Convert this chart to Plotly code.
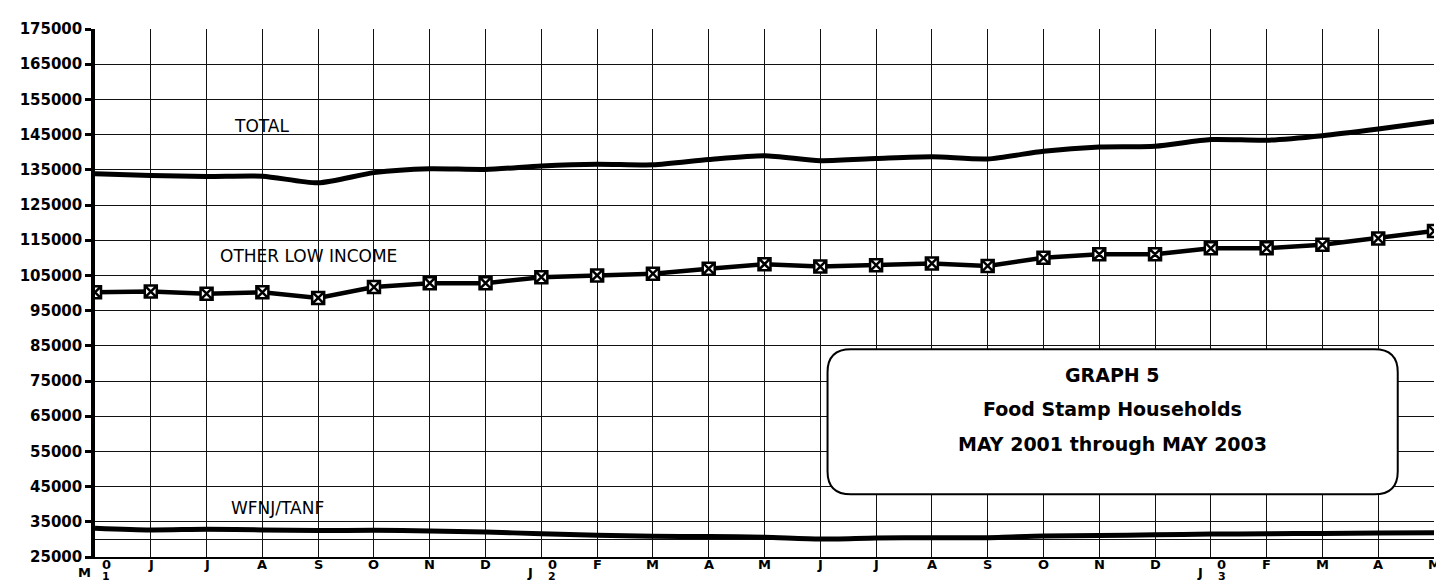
import plotly.graph_objects as go

# ---- data ----
month_letters = ["M", "J", "J", "A", "S", "O", "N", "D", "J", "F", "M", "A",
                 "M", "J", "J", "A", "S", "O", "N", "D", "J", "F", "M", "A", "M"]
year_marks = {0: "1", 8: "2", 20: "3"}   # months that start a year label ("0" + digit)

total = [133900, 133400, 133100, 133200, 131300, 134200, 135300, 135100, 136100,
         136600, 136400, 137900, 139000, 137600, 138200, 138700, 138100, 140300,
         141500, 141700, 143600, 143400, 144700, 146600, 148700]
other_low_income = [100200, 100400, 99800, 100200, 98600, 101700, 102800, 102800,
                    104500, 105000, 105500, 106900, 108200, 107500, 107900, 108400,
                    107700, 110000, 111000, 111000, 112700, 112700, 113700, 115500,
                    117600]
wfnj_tanf = [33200, 32700, 32900, 32700, 32500, 32600, 32400, 32100, 31600, 31200,
             30900, 30800, 30600, 30100, 30400, 30500, 30500, 31000, 31100, 31300,
             31500, 31600, 31700, 31800, 31900]

y_ticks = list(range(25000, 175001, 10000))

FONT = "DejaVu Sans"
x = list(range(len(month_letters)))

fig = go.Figure()
fig.add_trace(go.Scatter(x=x, y=total, mode="lines",
                         line=dict(color="black", width=5, shape="spline", smoothing=0.7),
                         hoverinfo="skip", showlegend=False))
fig.add_trace(go.Scatter(x=x, y=other_low_income, mode="lines+markers",
                         line=dict(color="black", width=4.5),
                         marker=dict(symbol="square-x", size=12, color="white",
                                     line=dict(color="black", width=2.5)),
                         hoverinfo="skip", showlegend=False))
fig.add_trace(go.Scatter(x=x, y=wfnj_tanf, mode="lines",
                         line=dict(color="black", width=5, shape="spline", smoothing=0.7),
                         hoverinfo="skip", showlegend=False))

annotations = []
tick_font = dict(family=FONT, size=13, color="black", weight="bold")
digit_font = dict(family=FONT, size=11, color="black", weight="bold")
# x-axis month labels
for i, m in enumerate(month_letters):
    if i in year_marks:
        annotations.append(dict(x=i, y=0, xref="x", yref="paper", text="0", showarrow=False,
                                xanchor="center", yanchor="middle", xshift=11, yshift=-7,
                                font=tick_font))
        annotations.append(dict(x=i, y=0, xref="x", yref="paper", text=m, showarrow=False,
                                xanchor="center", yanchor="middle", xshift=-11, yshift=-15,
                                font=tick_font))
        annotations.append(dict(x=i, y=0, xref="x", yref="paper", text=year_marks[i],
                                showarrow=False, xanchor="center", yanchor="middle",
                                xshift=11, yshift=-19, font=digit_font))
    else:
        annotations.append(dict(x=i, y=0, xref="x", yref="paper", text=m, showarrow=False,
                                xanchor="center", yanchor="middle", yshift=-7,
                                font=tick_font))

# series labels
label_font = dict(family=FONT, size=17, color="black")
annotations.append(dict(x=2.45, y=147400, xref="x", yref="y", text="TOTAL", showarrow=False,
                        xanchor="left", yanchor="middle", font=label_font))
annotations.append(dict(x=2.2, y=110400, xref="x", yref="y", text="OTHER LOW INCOME",
                        showarrow=False, xanchor="left", yanchor="middle", font=label_font))
annotations.append(dict(x=2.4, y=38900, xref="x", yref="y", text="WFNJ/TANF",
                        showarrow=False, xanchor="left", yanchor="middle", font=label_font))

# title box
box_x0, box_x1 = 13.13, 23.35
box_y0, box_y1 = 42800, 84000
rx, ry = 0.42, 6500
path = (f"M {box_x0 + rx},{box_y1} L {box_x1 - rx},{box_y1} "
        f"Q {box_x1},{box_y1} {box_x1},{box_y1 - ry} L {box_x1},{box_y0 + ry} "
        f"Q {box_x1},{box_y0} {box_x1 - rx},{box_y0} L {box_x0 + rx},{box_y0} "
        f"Q {box_x0},{box_y0} {box_x0},{box_y0 + ry} L {box_x0},{box_y1 - ry} "
        f"Q {box_x0},{box_y1} {box_x0 + rx},{box_y1} Z")
shapes = [dict(type="path", path=path, xref="x", yref="y", fillcolor="white",
               line=dict(color="black", width=2), layer="above")]

title_lines = ["GRAPH 5", "Food Stamp Households", "MAY 2001 through MAY 2003"]
box_cx = (box_x0 + box_x1) / 2
for k, t in enumerate(title_lines):
    annotations.append(dict(x=box_cx, y=76800 - k * 9800, xref="x", yref="y", text=t,
                            showarrow=False, xanchor="center", yanchor="middle",
                            font=dict(family=FONT, size=19, color="black", weight="bold")))

fig.update_layout(
    width=1444, height=586,
    margin=dict(l=83, r=18, t=16, b=37),
    paper_bgcolor="white", plot_bgcolor="white",
    showlegend=False,
    shapes=shapes, annotations=annotations,
    xaxis=dict(range=[0, 24], tickvals=x, showticklabels=False, ticks="",
               showgrid=True, gridcolor="#111", gridwidth=1,
               showline=True, linecolor="black", linewidth=1.5, zeroline=False,
               fixedrange=True),
    yaxis=dict(range=[25000, 175000], tickvals=y_ticks, tickformat="d",
               ticks="outside", ticklen=6, tickwidth=3, tickcolor="black",
               tickfont=dict(family=FONT, size=15, color="black", weight="bold"),
               showgrid=True, gridcolor="#111", gridwidth=1,
               minor=dict(tickvals=[30000], showgrid=True, gridcolor="#111", gridwidth=1,
                          ticks=""),
               showline=True, linecolor="black", linewidth=3.5, zeroline=False,
               fixedrange=True),
)

fig.write_html("out.html")
